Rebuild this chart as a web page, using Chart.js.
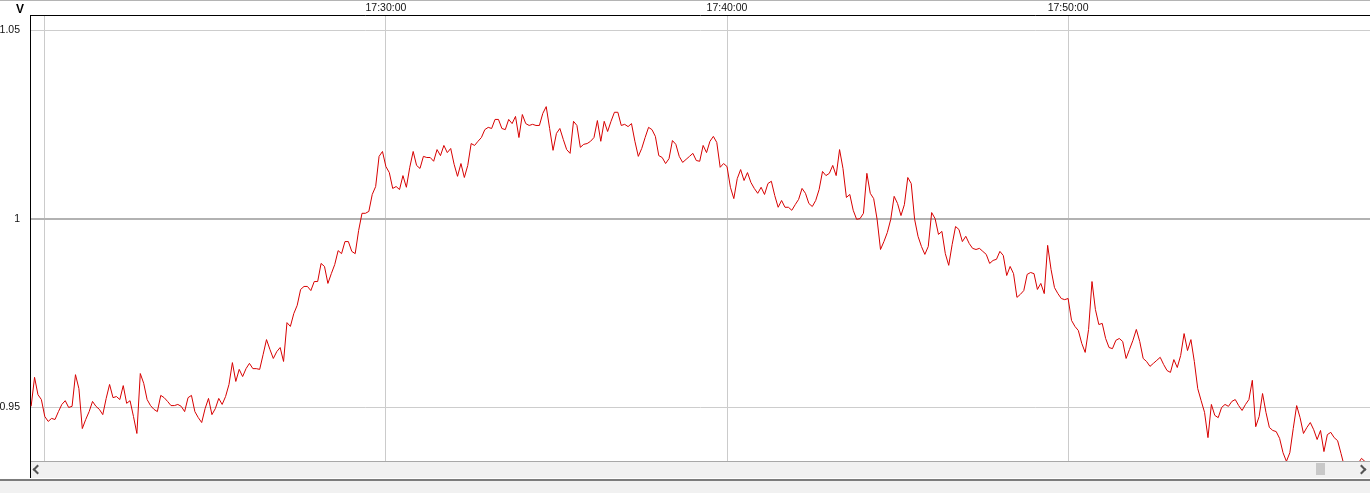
<!DOCTYPE html>
<html>
<head>
<meta charset="utf-8">
<script src="https://cdn.jsdelivr.net/npm/chart.js@4.4.1/dist/chart.umd.min.js"></script>
<style>
  html, body { margin: 0; padding: 0; background: #fff; }
  body { width: 1370px; height: 493px; position: relative; overflow: hidden; font-family: "Liberation Sans", Arial, sans-serif; }
  #wrap { position: absolute; left: 0; top: 0; width: 1370px; height: 461px; }
  #topLine { position: absolute; left: 0; top: 0; width: 1370px; height: 1px; background: #b4b4b4; }
  #unit { position: absolute; left: 16px; top: 3px; font-weight: bold; font-size: 12px; line-height: 12px; color: #000; }
  #scroll { position: absolute; left: 30px; top: 461px; width: 1340px; height: 17px; box-sizing: border-box; border-top: 1px solid #a8a8a8; background: #f1f1f1; }
  #axisTail { position: absolute; left: 30px; top: 461px; width: 1px; height: 17px; background: #000; }
  #thumb { position: absolute; left: 1316px; top: 463px; width: 9px; height: 12px; background: #c8c8c8; }
  .arrow { position: absolute; top: 466px; width: 5px; height: 5px; border-left: 2px solid #555; border-bottom: 2px solid #555; }
  #arrowL { left: 34px; transform: rotate(45deg); }
  #arrowR { left: 1358px; transform: rotate(-135deg); }
  #rule { position: absolute; left: 0; top: 479px; width: 1370px; height: 2px; background: #7c7c7c; }
  #foot { position: absolute; left: 0; top: 481px; width: 1370px; height: 12px; background: #f1f1f1; }
</style>
</head>
<body>
<div id="wrap"><canvas id="voltChart" width="1370" height="461"></canvas></div>
<div id="topLine"></div>
<div id="unit">V</div>
<div id="scroll"></div>
<div id="axisTail"></div>
<div id="thumb"></div>
<div class="arrow" id="arrowL"></div>
<div class="arrow" id="arrowR"></div>
<div id="rule"></div>
<div id="foot"></div>
<script>
  // Logged voltage, one sample every 6 s
  const startTime = '17:19:36';
  const sampleStep = 6;
  const volts = [
    0.9503, 0.9580, 0.9534, 0.9521, 0.9476, 0.9463, 0.9471, 0.9468, 0.9489, 0.9508,
    0.9518, 0.9500, 0.9503, 0.9587, 0.9550, 0.9444, 0.9468, 0.9489, 0.9516, 0.9503,
    0.9495, 0.9481, 0.9524, 0.9561, 0.9526, 0.9529, 0.9521, 0.9558, 0.9511, 0.9518,
    0.9476, 0.9431, 0.9590, 0.9564, 0.9521, 0.9505, 0.9495, 0.9489, 0.9532, 0.9526,
    0.9516, 0.9505, 0.9505, 0.9508, 0.9503, 0.9489, 0.9526, 0.9532, 0.9489, 0.9473,
    0.9460, 0.9497, 0.9524, 0.9481, 0.9497, 0.9524, 0.9508, 0.9529, 0.9561, 0.9619,
    0.9569, 0.9601, 0.9582, 0.9603, 0.9617, 0.9603, 0.9603, 0.9601, 0.9640, 0.9680,
    0.9654, 0.9630, 0.9648, 0.9659, 0.9622, 0.9725, 0.9715, 0.9749, 0.9771, 0.9813,
    0.9821, 0.9821, 0.9810, 0.9834, 0.9834, 0.9882, 0.9874, 0.9829, 0.9855, 0.9879,
    0.9916, 0.9908, 0.9940, 0.9940, 0.9914, 0.9908, 0.9969, 1.0015, 1.0015, 1.0020,
    1.0065, 1.0086, 1.0166, 1.0179, 1.0139, 1.0123, 1.0081, 1.0086, 1.0078, 1.0115,
    1.0084, 1.0137, 1.0179, 1.0142, 1.0134, 1.0166, 1.0163, 1.0163, 1.0153, 1.0184,
    1.0168, 1.0195, 1.0176, 1.0187, 1.0145, 1.0113, 1.0147, 1.0110, 1.0142, 1.0200,
    1.0195, 1.0206, 1.0216, 1.0237, 1.0243, 1.0240, 1.0264, 1.0264, 1.0240, 1.0237,
    1.0264, 1.0253, 1.0272, 1.0216, 1.0277, 1.0253, 1.0248, 1.0251, 1.0248, 1.0248,
    1.0280, 1.0298, 1.0240, 1.0182, 1.0227, 1.0240, 1.0211, 1.0184, 1.0174, 1.0259,
    1.0248, 1.0190, 1.0198, 1.0200, 1.0206, 1.0216, 1.0261, 1.0206, 1.0259, 1.0232,
    1.0259, 1.0283, 1.0283, 1.0248, 1.0251, 1.0245, 1.0253, 1.0206, 1.0166, 1.0187,
    1.0216, 1.0243, 1.0237, 1.0219, 1.0168, 1.0163, 1.0147, 1.0160, 1.0208, 1.0198,
    1.0166, 1.0150, 1.0158, 1.0166, 1.0174, 1.0155, 1.0153, 1.0195, 1.0176, 1.0206,
    1.0219, 1.0203, 1.0137, 1.0147, 1.0139, 1.0084, 1.0054, 1.0107, 1.0131, 1.0102,
    1.0123, 1.0097, 1.0081, 1.0068, 1.0084, 1.0065, 1.0094, 1.0100, 1.0062, 1.0031,
    1.0049, 1.0031, 1.0031, 1.0023, 1.0038, 1.0052, 1.0081, 1.0068, 1.0041, 1.0033,
    1.0049, 1.0078, 1.0126, 1.0115, 1.0121, 1.0142, 1.0115, 1.0184, 1.0134, 1.0057,
    1.0065, 1.0023, 0.9999, 1.0001, 1.0015, 1.0121, 1.0068, 1.0054, 0.9999, 0.9919,
    0.9940, 0.9964, 0.9999, 1.0060, 1.0041, 1.0009, 1.0038, 1.0110, 1.0094, 0.9999,
    0.9954, 0.9927, 0.9906, 0.9927, 1.0017, 1.0001, 0.9959, 0.9967, 0.9908, 0.9877,
    0.9932, 0.9980, 0.9972, 0.9940, 0.9954, 0.9935, 0.9922, 0.9919, 0.9922, 0.9914,
    0.9906, 0.9882, 0.9890, 0.9893, 0.9914, 0.9903, 0.9850, 0.9874, 0.9855, 0.9792,
    0.9800, 0.9810, 0.9853, 0.9858, 0.9855, 0.9813, 0.9829, 0.9802, 0.9930, 0.9866,
    0.9818, 0.9802, 0.9789, 0.9786, 0.9789, 0.9731, 0.9715, 0.9704, 0.9670, 0.9646,
    0.9707, 0.9834, 0.9760, 0.9720, 0.9723, 0.9683, 0.9659, 0.9656, 0.9678, 0.9683,
    0.9675, 0.9630, 0.9654, 0.9678, 0.9707, 0.9675, 0.9630, 0.9622, 0.9609, 0.9617,
    0.9625, 0.9633, 0.9614, 0.9598, 0.9593, 0.9627, 0.9606, 0.9638, 0.9696, 0.9651,
    0.9680, 0.9622, 0.9550, 0.9518, 0.9487, 0.9420, 0.9508, 0.9479, 0.9473, 0.9500,
    0.9508, 0.9503, 0.9516, 0.9521, 0.9505, 0.9492, 0.9508, 0.9521, 0.9572, 0.9449,
    0.9476, 0.9537, 0.9487, 0.9447, 0.9439, 0.9436, 0.9418, 0.9380, 0.9357, 0.9380,
    0.9444, 0.9505, 0.9473, 0.9431, 0.9447, 0.9460, 0.9441, 0.9415, 0.9439, 0.9383,
    0.9428, 0.9434, 0.9420, 0.9412, 0.9378, 0.9343, 0.9330, 0.9335, 0.9354, 0.9351,
    0.9365, 0.9357, 0.9354
  ];

  // Axis setup
  const yTicks = [0.95, 1, 1.05];
  const yMin = 0.9358;
  const yMax = 1.0541;
  const gridTimes = ['17:20:00', '17:30:00', '17:40:00', '17:50:00'];
  const labelTimes = ['17:30:00', '17:40:00', '17:50:00'];
  const viewStart = '17:19:34';
  const viewEnd = '17:58:51';

  function toSec(s) {
    const [h, m, sec] = s.split(':').map(Number);
    return h * 3600 + m * 60 + sec;
  }
  function fmtTime(v) {
    const pad = n => String(n).padStart(2, '0');
    const t = Math.round(v);
    return pad(Math.floor(t / 3600)) + ':' + pad(Math.floor(t / 60) % 60) + ':' + pad(t % 60);
  }

  const t0 = toSec(startTime);
  const points = volts.map((v, i) => ({ x: t0 + i * sampleStep, y: v }));
  const labelFont = { family: '"Liberation Sans", Arial, sans-serif', size: 10.5 };

  // no extra room around the axes, the plot fills the canvas
  function noPad(ax) {
    ax.paddingTop = 0;
    ax.paddingBottom = 0;
    ax.paddingLeft = 0;
    ax.paddingRight = 0;
  }

  const ctx = document.getElementById('voltChart').getContext('2d');
  new Chart(ctx, {
    type: 'line',
    data: {
      datasets: [{
        data: points,
        borderColor: '#d70000',
        borderWidth: 1,
        pointRadius: 0,
        tension: 0,
        fill: false
      }]
    },
    options: {
      responsive: false,
      animation: false,
      devicePixelRatio: 1,
      layout: { padding: 0 },
      plugins: { legend: { display: false }, tooltip: { enabled: false } },
      scales: {
        x: {
          type: 'linear',
          position: 'top',
          min: toSec(viewStart),
          max: toSec(viewEnd),
          afterBuildTicks: ax => { ax.ticks = gridTimes.map(t => ({ value: toSec(t) })); },
          afterFit: ax => { ax.height = 15; noPad(ax); },
          grid: { color: '#cbcbcb', lineWidth: 1, drawTicks: false },
          border: { color: '#000', width: 1 },
          ticks: {
            autoSkip: false,
            maxRotation: 0,
            padding: 1,
            color: '#111',
            font: labelFont,
            callback: v => labelTimes.includes(fmtTime(v)) ? fmtTime(v) : ''
          }
        },
        y: {
          type: 'linear',
          min: yMin,
          max: yMax,
          afterBuildTicks: ax => { ax.ticks = yTicks.map(v => ({ value: v })); },
          afterFit: ax => { ax.width = 30; noPad(ax); },
          grid: {
            drawTicks: false,
            color: c => (c.tick && c.tick.value === 1) ? '#b2b2b2' : '#cdcdcd',
            lineWidth: c => (c.tick && c.tick.value === 1) ? 2 : 1
          },
          border: { color: '#000', width: 1 },
          ticks: {
            padding: 10,
            color: '#111',
            font: labelFont,
            callback: v => String(v)
          }
        }
      }
    }
  });
</script>
</body>
</html>
